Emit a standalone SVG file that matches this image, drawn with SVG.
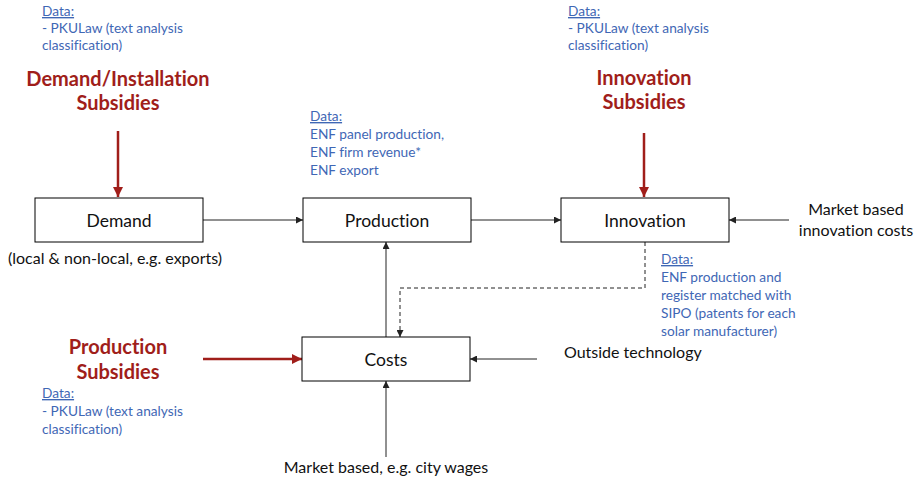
<svg xmlns="http://www.w3.org/2000/svg" width="915" height="480" viewBox="0 0 915 480">
<style>
text{font-family:Lato,"Open Sans",sans-serif;font-variant-ligatures:none}
.box{fill:#fff;stroke:#000;stroke-width:1}
.lbl{font-size:17.5px;fill:#111;text-anchor:middle}
.txt{font-size:16px;fill:#111}
.data{font-size:13.7px;fill:#3F67B5}
.u{text-decoration:underline}
.sub{font-size:20px;font-weight:bold;fill:#A01E1A;text-anchor:middle}
.c{stroke:#222;stroke-width:1;fill:none}
.r{stroke:#A01E1A;stroke-width:2.5;fill:none}
</style>
<defs>
<marker id="ab" viewBox="0 0 10 10" refX="10" refY="5" markerWidth="7" markerHeight="7" markerUnits="userSpaceOnUse" orient="auto"><path d="M0,0L10,5L0,10z" fill="#222"/></marker>
<marker id="ar" viewBox="0 0 10 10" refX="10" refY="5" markerWidth="4" markerHeight="4" orient="auto"><path d="M0,0L10,5L0,10z" fill="#A01E1A"/></marker>
</defs>
<g id="connectors">
<line class="c" x1="203" y1="220" x2="303" y2="220" marker-end="url(#ab)"/>
<line class="c" x1="471" y1="220" x2="561" y2="220" marker-end="url(#ab)"/>
<line class="c" x1="789" y1="220" x2="729" y2="220" marker-end="url(#ab)"/>
<line class="c" x1="386" y1="337" x2="386" y2="242" marker-end="url(#ab)"/>
<polyline class="c" points="645,242 645,288 400,288 400,337" stroke-dasharray="4,3" marker-end="url(#ab)"/>
<line class="c" x1="537" y1="359" x2="470" y2="359" marker-end="url(#ab)"/>
<line class="c" x1="386" y1="457" x2="386" y2="381" marker-end="url(#ab)"/>
<line class="r" x1="118" y1="131" x2="118" y2="197" marker-end="url(#ar)"/>
<line class="r" x1="644" y1="133" x2="644" y2="197" marker-end="url(#ar)"/>
<line class="r" x1="203" y1="359" x2="302" y2="359" marker-end="url(#ar)"/>
</g>
<g id="demand"><rect class="box" x="35" y="198" width="168" height="44"/><text class="lbl" x="119" y="227">Demand</text></g>
<g id="production"><rect class="box" x="303" y="198" width="168" height="44"/><text class="lbl" x="387" y="227">Production</text></g>
<g id="innovation"><rect class="box" x="561" y="198" width="168" height="44"/><text class="lbl" x="645" y="227">Innovation</text></g>
<g id="costs"><rect class="box" x="302" y="337" width="168" height="44"/><text class="lbl" x="386" y="366">Costs</text></g>
<g id="demand-subsidies">
<text class="data"><tspan class="u" x="42" y="16">Data:</tspan><tspan x="42" y="33">- PKULaw (text analysis</tspan><tspan x="42" y="50">classification)</tspan></text>
<text class="sub"><tspan x="118" y="86">Demand/Installation</tspan><tspan x="118" y="110">Subsidies</tspan></text>
</g>
<g id="innovation-subsidies">
<text class="data"><tspan class="u" x="568" y="16">Data:</tspan><tspan x="568" y="33">- PKULaw (text analysis</tspan><tspan x="568" y="50">classification)</tspan></text>
<text class="sub"><tspan x="644" y="85">Innovation</tspan><tspan x="644" y="109">Subsidies</tspan></text>
</g>
<g id="production-subsidies">
<text class="sub"><tspan x="118" y="354">Production</tspan><tspan x="118" y="379">Subsidies</tspan></text>
<text class="data"><tspan class="u" x="42" y="398">Data:</tspan><tspan x="42" y="416">- PKULaw (text analysis</tspan><tspan x="42" y="434">classification)</tspan></text>
</g>
<g id="production-data">
<text class="data"><tspan class="u" x="310" y="121">Data:</tspan><tspan x="310" y="139">ENF panel production,</tspan><tspan x="310" y="157">ENF firm revenue*</tspan><tspan x="310" y="175">ENF export</tspan></text>
</g>
<g id="innovation-data">
<text class="data"><tspan class="u" x="661" y="264">Data:</tspan><tspan x="661" y="282">ENF production and</tspan><tspan x="661" y="300">register matched with</tspan><tspan x="661" y="318">SIPO (patents for each</tspan><tspan x="661" y="336">solar manufacturer)</tspan></text>
</g>
<g id="market-innovation"><text class="txt" text-anchor="middle"><tspan x="856" y="215">Market based</tspan><tspan x="856" y="236">innovation costs</tspan></text></g>
<g id="demand-note"><text class="txt" x="8" y="264">(local &amp; non-local, e.g. exports)</text></g>
<g id="outside-tech"><text class="txt" x="564" y="358">Outside technology</text></g>
<g id="market-wages"><text class="txt" x="386" y="473" text-anchor="middle">Market based, e.g. city wages</text></g>
</svg>
